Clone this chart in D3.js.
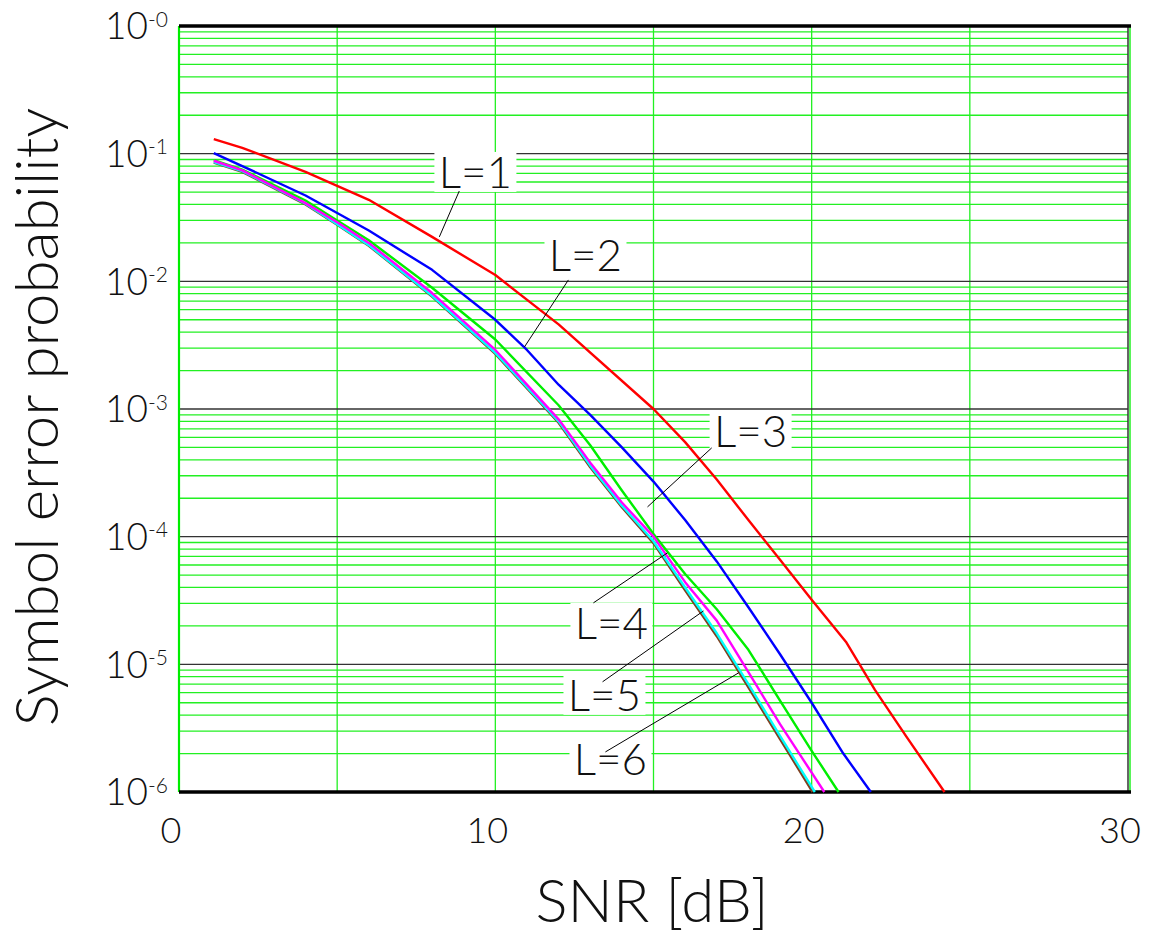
<!DOCTYPE html>
<html>
<head>
<meta charset="utf-8">
<script src="https://cdn.jsdelivr.net/npm/d3@7"></script>
<style>
  html, body { margin: 0; padding: 0; background: #fff; }
  svg { display: block; }
  text { font-family: "Lato", "Noto Sans", sans-serif; font-weight: 300; fill: #111; }
</style>
</head>
<body>
<svg id="chart" width="1150" height="937"></svg>
<script>
// ---------------- data ----------------
const seriesNames = ["L=1", "L=2", "L=3", "L=4", "L=5", "L=6"];

const snrL1 = [1.1, 2, 4, 6, 8, 10, 12, 15, 16, 17, 18, 19, 20, 21.1, 22, 23, 24.2];
const perL1 = [0.130, 0.111, 0.072, 0.0435, 0.0223, 0.0112, 0.0046, 0.001, 5.5e-4, 2.8e-4, 1.35e-4, 6.6e-5, 3.2e-5, 1.48e-5, 6.3e-6, 2.7e-6, 1e-6];

const snrL2 = [1.1, 2, 4, 6, 8, 10, 11, 12, 13, 14, 15, 16, 17, 18, 19, 20, 21, 21.87];
const perL2 = [0.101, 0.080, 0.047, 0.025, 0.0123, 0.005, 0.0029, 0.00155, 9e-4, 5e-4, 2.7e-4, 1.35e-4, 6.4e-5, 2.8e-5, 1.2e-5, 5e-6, 2e-6, 1e-6];

const snrL3 = [1.1, 2, 4, 5, 6, 8, 10, 12, 13, 14, 15, 16, 17, 18, 19, 20, 20.85];
const perL3 = [0.089, 0.075, 0.043, 0.030, 0.021, 0.0089, 0.0035, 0.00107, 5.2e-4, 2.3e-4, 1.05e-4, 5.1e-5, 2.7e-5, 1.3e-5, 5.2e-6, 2.1e-6, 1e-6];

const snrL4 = [1.1, 2, 4, 5, 6, 8, 10, 12, 13, 14, 15, 16, 17, 18, 19, 20.4];
const perL4 = [0.088, 0.074, 0.041, 0.029, 0.020, 0.0081, 0.0029, 8.3e-4, 3.8e-4, 1.85e-4, 1e-4, 4.4e-5, 2.2e-5, 8.7e-6, 3.4e-6, 1e-6];

const snrL5 = [1.1, 2, 4, 5, 6, 8, 10, 12, 13, 14, 15, 16, 17, 18, 19, 20.1];
const perL5 = [0.086, 0.073, 0.0405, 0.028, 0.0192, 0.0077, 0.00275, 8e-4, 3.6e-4, 1.75e-4, 9.2e-5, 4e-5, 1.75e-5, 7e-6, 2.75e-6, 1e-6];

const snrL6 = [1.1, 2, 4, 5, 6, 8, 10, 12, 13, 14, 15, 16, 17, 18, 19, 20.03];
const perL6 = [0.085, 0.072, 0.040, 0.0277, 0.019, 0.0076, 0.0027, 7.8e-4, 3.5e-4, 1.7e-4, 8.9e-5, 3.8e-5, 1.66e-5, 6.6e-6, 2.6e-6, 1e-6];

const seriesColors = ["#ff0000", "#0000ff", "#00ee00", "#ff00ff", "#00ffff", "#804020"];

// label annotations in data units: text centre, leader start, leader end
const labelAt    = [[9.37, 0.0719], [12.85, 0.0161], [18.07, 6.74e-4], [13.67, 2.11e-5], [13.45, 5.77e-6], [13.64, 1.82e-6]];
const leaderFrom = [[8.86, 0.051], [12.31, 0.01026], [16.84, 4.96e-4], [13.1, 3.03e-5], [13.39, 7.3e-6], [13.48, 2.06e-6]];
const leaderTo   = [[8.23, 0.0223], [10.92, 0.00306], [14.81, 1.71e-4], [15.44, 7.46e-5], [16.58, 2.62e-5], [17.69, 8.57e-6]];

const xTicks = [0, 10, 20, 30];
const xGrid = [5, 10, 15, 20, 25];
const yDecades = [0, -1, -2, -3, -4, -5, -6];
const yTickLabels = ["-0", "-1", "-2", "-3", "-4", "-5", "-6"];
const xTitle = "SNR [dB]";
const yTitle = "Symbol error probability";

// ---------------- layout ----------------
const svg = d3.select("#chart");
const pL = 179, pR = 1128, pT = 26, pB = 792;

const x = d3.scaleLinear().domain([0, 30]).range([pL, pR]);
const y = d3.scaleLog().domain([1e-6, 1]).range([pB, pT]);

// minor grid lines
const minorVals = [];
for (let e = -6; e < 0; e++) for (let m = 2; m <= 9; m++) minorVals.push(m * Math.pow(10, e));

const grid = svg.append("g");
grid.selectAll("line.minor").data(minorVals).join("line")
  .attr("x1", pL).attr("x2", pR)
  .attr("y1", d => y(d)).attr("y2", d => y(d))
  .attr("stroke", "#22f022").attr("stroke-width", 1.3);

grid.selectAll("line.vgrid").data(xGrid).join("line")
  .attr("x1", d => x(d)).attr("x2", d => x(d))
  .attr("y1", pT).attr("y2", pB)
  .attr("stroke", "#22f022").attr("stroke-width", 1.3);

grid.selectAll("line.major").data(yDecades.slice(1, -1)).join("line")
  .attr("x1", pL).attr("x2", pR)
  .attr("y1", d => y(Math.pow(10, d))).attr("y2", d => y(Math.pow(10, d)))
  .attr("stroke", "#333").attr("stroke-width", 1.3);

// frame
svg.append("line").attr("x1", pL).attr("x2", pL).attr("y1", pT).attr("y2", pB)
  .attr("stroke", "#00ee00").attr("stroke-width", 2.2);
svg.append("line").attr("x1", pR + 2).attr("x2", pR + 2).attr("y1", pT).attr("y2", pB)
  .attr("stroke", "#22f022").attr("stroke-width", 1.5);
svg.append("line").attr("x1", pR).attr("x2", pR).attr("y1", pT).attr("y2", pB)
  .attr("stroke", "#333").attr("stroke-width", 1.5);

// label boxes (white, hide the grid)
const boxW = 82, boxH = 40;
svg.append("g").selectAll("rect").data(labelAt).join("rect")
  .attr("x", d => x(d[0]) - boxW / 2).attr("y", d => y(d[1]) - boxH / 2)
  .attr("width", boxW).attr("height", boxH).attr("fill", "#fff");

// top & bottom thick borders
svg.append("line").attr("x1", pL).attr("x2", pR + 3).attr("y1", y(1)).attr("y2", y(1))
  .attr("stroke", "#000").attr("stroke-width", 3.6);
svg.append("line").attr("x1", pL).attr("x2", pR + 3).attr("y1", y(1e-6)).attr("y2", y(1e-6))
  .attr("stroke", "#000").attr("stroke-width", 3.6);

// curves
const seriesSnr = [snrL1, snrL2, snrL3, snrL4, snrL5, snrL6];
const seriesPer = [perL1, perL2, perL3, perL4, perL5, perL6];
const line = d3.line().x(d => x(d[0])).y(d => y(d[1]));
const drawOrder = [0, 1, 2, 5, 4, 3];
svg.append("g").selectAll("path").data(drawOrder).join("path")
  .attr("d", i => line(d3.zip(seriesSnr[i], seriesPer[i])))
  .attr("fill", "none")
  .attr("stroke", i => seriesColors[i])
  .attr("stroke-width", 2.4)
  .attr("stroke-linejoin", "round");

// leaders
svg.append("g").selectAll("line").data(seriesNames).join("line")
  .attr("x1", (d, i) => x(leaderFrom[i][0])).attr("y1", (d, i) => y(leaderFrom[i][1]))
  .attr("x2", (d, i) => x(leaderTo[i][0])).attr("y2", (d, i) => y(leaderTo[i][1]))
  .attr("stroke", "#000").attr("stroke-width", 1);

// label text
svg.append("g").selectAll("text").data(seriesNames).join("text")
  .attr("x", (d, i) => x(labelAt[i][0])).attr("y", (d, i) => y(labelAt[i][1]))
  .attr("dy", "0.36em").attr("text-anchor", "middle")
  .style("font-size", "44px").text(d => d);

// y tick labels (10^-n)
const yt = svg.append("g").selectAll("text").data(yDecades).join("text")
  .attr("x", 105).attr("y", d => y(Math.pow(10, d)))
  .attr("dy", "0.36em").style("font-size", "37px");
yt.append("tspan").text("10");
yt.append("tspan").attr("dy", "-0.6em").style("font-size", "21px").text((d, i) => yTickLabels[i]);

// x tick labels
svg.append("g").selectAll("text").data(xTicks).join("text")
  .attr("x", d => x(d) - 8).attr("y", 843)
  .attr("text-anchor", "middle").style("font-size", "36px").text(d => d);

// axis titles
svg.append("text").attr("x", 652).attr("y", 922).attr("text-anchor", "middle")
  .style("font-size", "60px").text(xTitle);
svg.append("text").attr("transform", "translate(58,417) rotate(-90)")
  .attr("text-anchor", "middle").style("font-size", "60px").text(yTitle);
</script>
</body>
</html>
